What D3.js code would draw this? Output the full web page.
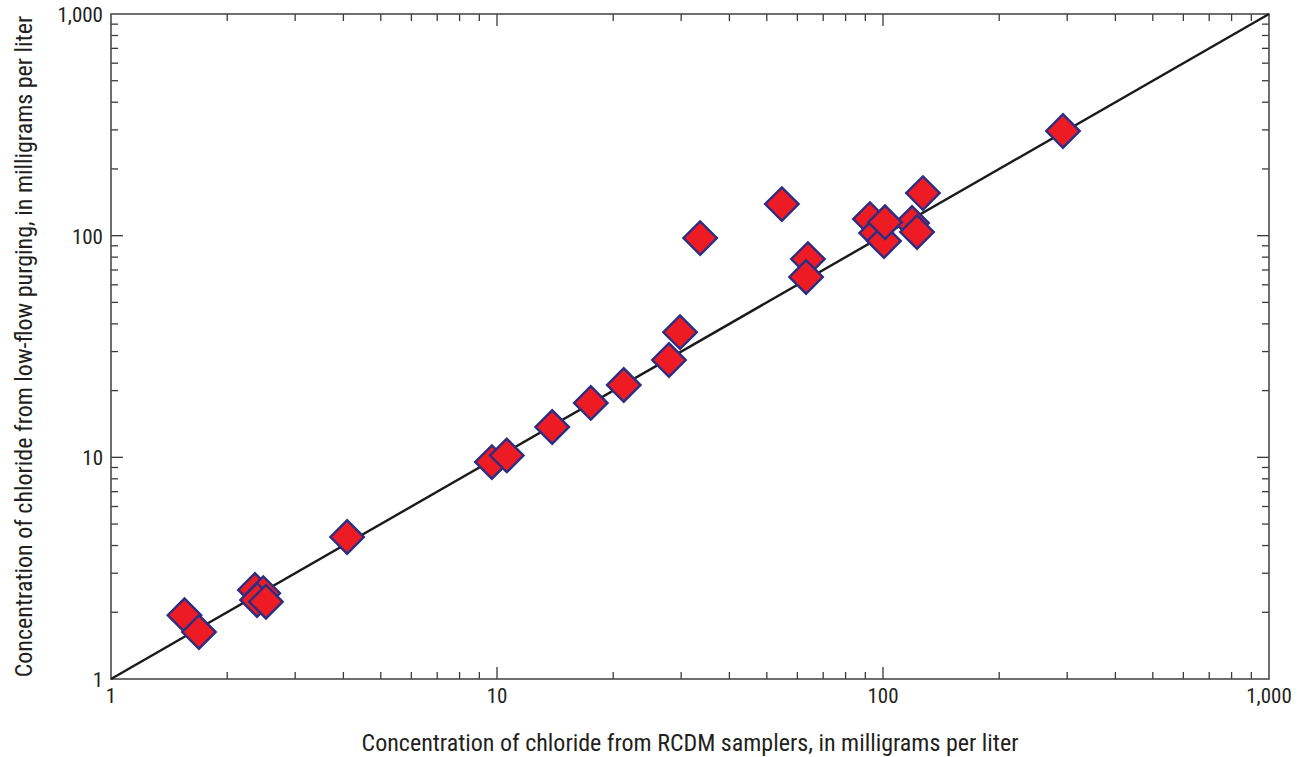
<!DOCTYPE html>
<html>
<head>
<meta charset="utf-8">
<script src="https://cdn.jsdelivr.net/npm/d3@7"></script>
<style>
  body { margin: 0; background: #fff; }
  text { font-family: "Liberation Sans Narrow", "Arial Narrow", "Roboto Condensed", "Liberation Sans", sans-serif; fill: #231f20; }
</style>
</head>
<body>
<svg id="chart" width="1299" height="757"></svg>
<script>
// chloride, RCDM samplers (x) vs low-flow purging (y), mg/L
const rcdm = [1.55, 1.69, 2.36, 2.48, 2.39, 2.52, 4.09, 9.7, 10.6, 13.9, 17.5, 21.3, 27.9, 29.8, 33.6,
              54.7, 63.9, 63.2, 92.5, 96, 100.6, 118.9, 122.5, 126.9, 101.2, 292.6];
const lowFlow = [1.94, 1.63, 2.52, 2.44, 2.27, 2.23, 4.37, 9.52, 10.2, 13.7, 17.6, 21.2, 27.5, 36.7, 97.5,
                 138.8, 78.4, 65.1, 118.8, 102.8, 94.5, 114, 103.8, 155.6, 115, 296.5];
const tickValues = [1, 10, 100, 1000];
const tickLabels = ["1", "10", "100", "1,000"];
const xTitle = "Concentration of chloride from RCDM samplers, in milligrams per liter";
const yTitle = "Concentration of chloride from low-flow purging, in milligrams per liter";

const svg = d3.select("#chart");
const margin = { top: 14, right: 30, bottom: 78, left: 111 };
const width = 1269 - margin.left;
const height = 679 - margin.top;

const g = svg.append("g")
  .attr("transform", "translate(" + margin.left + "," + margin.top + ")");

const xScale = d3.scaleLog().domain([1, 1000]).range([0, width]);
const yScale = d3.scaleLog().domain([1, 1000]).range([height, 0]);

// minor ticks 2..9 per decade
const minor = [];
for (let d = 1; d < 1000; d *= 10) {
  for (let k = 2; k <= 9; k++) minor.push(d * k);
}
const major = [10, 100];

const tickColor = "#3a3a3a";
function drawTicks(values, len, cls) {
  // bottom
  g.selectAll(".b" + cls).data(values).enter().append("line")
    .attr("x1", d => xScale(d)).attr("x2", d => xScale(d))
    .attr("y1", height).attr("y2", height - len)
    .attr("stroke", tickColor).attr("stroke-width", 1.3);
  // top
  g.selectAll(".t" + cls).data(values).enter().append("line")
    .attr("x1", d => xScale(d)).attr("x2", d => xScale(d))
    .attr("y1", 0).attr("y2", len)
    .attr("stroke", tickColor).attr("stroke-width", 1.3);
  // left
  g.selectAll(".l" + cls).data(values).enter().append("line")
    .attr("y1", d => yScale(d)).attr("y2", d => yScale(d))
    .attr("x1", 0).attr("x2", len)
    .attr("stroke", tickColor).attr("stroke-width", 1.3);
  // right
  g.selectAll(".r" + cls).data(values).enter().append("line")
    .attr("y1", d => yScale(d)).attr("y2", d => yScale(d))
    .attr("x1", width).attr("x2", width - len)
    .attr("stroke", tickColor).attr("stroke-width", 1.3);
}
drawTicks(minor, 7, "min");
drawTicks(major, 12, "maj");

// frame
g.append("rect")
  .attr("width", width).attr("height", height)
  .attr("fill", "none").attr("stroke", "#4a4a4a").attr("stroke-width", 1.6);

// 1:1 line
g.append("line")
  .attr("x1", xScale(1)).attr("y1", yScale(1))
  .attr("x2", xScale(1000)).attr("y2", yScale(1000))
  .attr("stroke", "#1a1a1a").attr("stroke-width", 2.4);

// points
const pts = rcdm.map((v, i) => ({ x: v, y: lowFlow[i] }));
const diamond = d3.symbol().type(d3.symbolSquare).size(560);
g.selectAll(".pt").data(pts).enter().append("path")
  .attr("class", "pt")
  .attr("d", diamond)
  .attr("transform", d => "translate(" + xScale(d.x) + "," + yScale(d.y) + ") rotate(45)")
  .attr("fill", "#ed1c24")
  .attr("stroke", "#2b2e83")
  .attr("stroke-width", 2.4);

// tick labels
g.selectAll(".xl").data(tickValues).enter().append("text")
  .attr("x", d => xScale(d)).attr("y", height + 24)
  .attr("text-anchor", "middle").style("font-size", "21px")
  .text((d, i) => tickLabels[i]);
g.selectAll(".yl").data(tickValues).enter().append("text")
  .attr("x", -8).attr("y", d => yScale(d) + 8)
  .attr("text-anchor", "end").style("font-size", "21px")
  .text((d, i) => tickLabels[i]);

// axis titles
g.append("text")
  .attr("x", width / 2).attr("y", height + 72)
  .attr("text-anchor", "middle").style("font-size", "24px")
  .text(xTitle);
g.append("text")
  .attr("transform", "rotate(-90)")
  .attr("x", -height / 2).attr("y", -margin.left + 32)
  .attr("text-anchor", "middle").style("font-size", "24px")
  .text(yTitle);
</script>
</body>
</html>
